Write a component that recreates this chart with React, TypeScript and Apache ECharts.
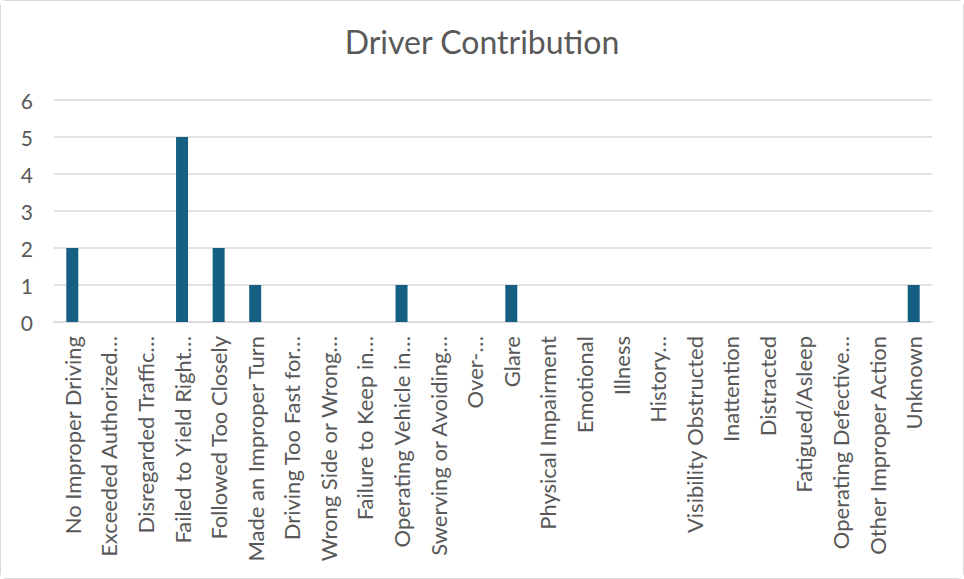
import React, { useEffect, useRef } from "react";
import * as echarts from "echarts";

const categories = [
  "No Improper Driving",
  "Exceeded Authorized…",
  "Disregarded Traffic…",
  "Failed to Yield Right…",
  "Followed Too Closely",
  "Made an Improper Turn",
  "Driving Too Fast for…",
  "Wrong Side or Wrong…",
  "Failure to Keep in…",
  "Operating Vehicle in…",
  "Swerving or Avoiding…",
  "Over-…",
  "Glare",
  "Physical Impairment",
  "Emotional",
  "Illness",
  "History…",
  "Visibility Obstructed",
  "Inattention",
  "Distracted",
  "Fatigued/Asleep",
  "Operating Defective…",
  "Other Improper Action",
  "Unknown",
];

const values = [2, 0, 0, 5, 2, 1, 0, 0, 0, 1, 0, 0, 1, 0, 0, 0, 0, 0, 0, 0, 0, 0, 0, 1];

const chartTitle = "Driver Contribution";

export default function App() {
  const ref = useRef<HTMLDivElement>(null);
  useEffect(() => {
    document.body.style.margin = "0";
    const chart = echarts.init(ref.current!, null, { renderer: "svg" });
    chart.setOption({
      animation: false,
      backgroundColor: "#ffffff",
      title: {
        text: chartTitle,
        left: "center",
        top: 19,
        textStyle: {
          fontFamily: "Lato",
          fontSize: 32,
          fontWeight: "normal",
          color: "#595959",
        },
      },
      grid: { left: 53, right: 31, top: 99, bottom: 256, containLabel: false },
      xAxis: {
        type: "category",
        data: categories,
        axisLine: { show: true, lineStyle: { color: "#d9d9d9", width: 1.5 } },
        axisTick: { show: false },
        axisLabel: {
          rotate: 90,
          interval: 0,
          margin: 14,
          fontFamily: "Lato",
          fontSize: 22,
          color: "#595959",
        },
      },
      yAxis: {
        type: "value",
        min: 0,
        max: 6,
        interval: 1,
        axisLine: { show: false },
        axisTick: { show: false },
        splitLine: { lineStyle: { color: "#d9d9d9", width: 1.5 } },
        axisLabel: {
          margin: 21,
          fontFamily: "Lato",
          fontSize: 21,
          color: "#595959",
        },
      },
      series: [
        {
          type: "bar",
          data: values,
          barWidth: 12,
          itemStyle: { color: "#156082" },
        },
      ],
    });
    return () => chart.dispose();
  }, []);
  return (
    <div
      ref={ref}
      style={{
        width: 964,
        height: 579,
        boxSizing: "border-box",
        border: "1px solid #d9d9d9",
        borderRadius: 6,
      }}
    />
  );
}
